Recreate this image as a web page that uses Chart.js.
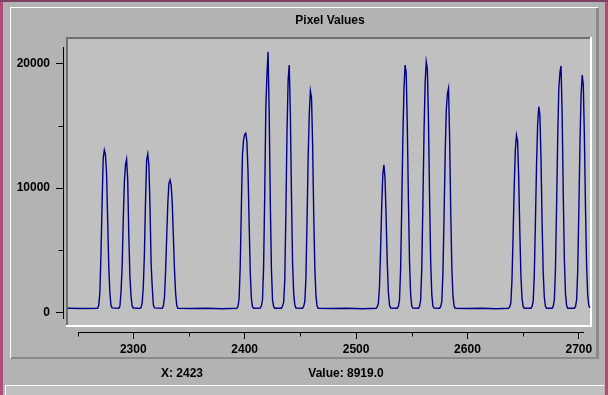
<!DOCTYPE html>
<html>
<head>
<meta charset="utf-8">
<script src="https://cdn.jsdelivr.net/npm/chart.js@4.4.1/dist/chart.umd.min.js"></script>
<style>
  body { margin: 0; background: #b3b3b3; }
  canvas { display: block; }
</style>
</head>
<body>
<canvas id="myChart" width="608" height="395"></canvas>
<script>
    // pixel index (x) and value, one line per peak / flat stretch
    var channels = [
        2241, 2255, 2268, 2269,
        2270, 2271, 2272, 2273, 2274, 2275, 2276, 2277, 2278, 2279, 2280,
        2281, 2287, 2288,
        2289, 2290, 2291, 2292, 2293, 2294, 2295, 2296, 2297, 2298, 2299,
        2300, 2306, 2307, 2308,
        2309, 2310, 2311, 2312, 2313, 2314, 2315, 2316, 2317, 2318,
        2319, 2326, 2327,
        2328, 2329, 2330, 2331, 2332, 2333, 2334, 2335, 2336, 2337, 2338, 2339,
        2340, 2352, 2366, 2380, 2393, 2394,
        2395, 2396, 2397, 2398, 2399, 2400, 2401, 2402, 2403, 2404, 2405, 2406, 2407,
        2408, 2414, 2415,
        2416, 2417, 2418, 2419, 2420, 2421, 2422, 2423, 2424, 2425, 2426,
        2427, 2433, 2434,
        2435, 2436, 2437, 2438, 2439, 2440, 2441, 2442, 2443, 2444, 2445,
        2446, 2452, 2453,
        2454, 2455, 2456, 2457, 2458, 2459, 2460, 2461, 2462, 2463, 2464, 2465,
        2466, 2478, 2492, 2506, 2518, 2519,
        2520, 2521, 2522, 2523, 2524, 2525, 2526, 2527, 2528, 2529, 2530,
        2531, 2537, 2538,
        2539, 2540, 2541, 2542, 2543, 2544, 2545, 2546, 2547, 2548, 2549, 2550,
        2551, 2556, 2557,
        2558, 2559, 2560, 2561, 2562, 2563, 2564, 2565, 2566, 2567, 2568, 2569,
        2570, 2575, 2576,
        2577, 2578, 2579, 2580, 2581, 2582, 2583, 2584, 2585, 2586, 2587, 2588,
        2589, 2600, 2613, 2626, 2637, 2638,
        2639, 2640, 2641, 2642, 2643, 2644, 2645, 2646, 2647, 2648, 2649, 2650,
        2651, 2657, 2658,
        2659, 2660, 2661, 2662, 2663, 2664, 2665, 2666, 2667, 2668, 2669, 2670,
        2671, 2676, 2677,
        2678, 2679, 2680, 2681, 2682, 2683, 2684, 2685, 2686, 2687, 2688, 2689,
        2690, 2696, 2697,
        2698, 2699, 2700, 2701, 2702, 2703, 2704, 2705, 2706, 2707, 2708, 2709, 2710
    ];
    var values = [
        320, 310, 330, 560,
        1580, 4750, 8780, 12400, 13070, 12700, 11200, 7430, 3670, 1530, 540,
        360, 330, 480,
        1660, 3670, 7430, 10520, 11870, 12320, 10660, 6090, 2870, 1260, 510,
        350, 320, 380, 760,
        2060, 4750, 9050, 12270, 12750, 11870, 8510, 3950, 2060, 590,
        360, 320, 520,
        1200, 3300, 6090, 8780, 10390, 10660, 10250, 8780, 6090, 3410, 1530, 560,
        330, 300, 320, 290, 320, 480,
        1100, 3670, 8380, 12670, 13880, 14340, 14420, 13740, 11330, 7170, 3270, 1130, 450,
        330, 340, 520,
        1000, 3670, 9500, 16560, 19110, 20990, 16000, 8919, 3500, 1000, 450,
        330, 330, 500,
        800, 2600, 8000, 14500, 18700, 19920, 16000, 9500, 4000, 1500, 600,
        350, 330, 480,
        900, 2800, 7500, 12500, 16000, 17830, 17300, 13500, 7800, 3500, 1300, 500,
        330, 300, 320, 290, 320, 450,
        700, 2000, 5000, 8500, 11100, 11870, 10800, 7600, 4000, 1600, 600,
        340, 330, 480,
        1000, 3500, 8500, 14000, 18000, 19920, 19300, 15000, 9000, 4000, 1400, 500,
        340, 330, 480,
        1000, 3600, 8800, 14500, 18500, 20190, 19600, 15500, 9200, 4000, 1400, 500,
        340, 330, 470,
        900, 3200, 7800, 12800, 16300, 17600, 18040, 14000, 8000, 3500, 1300, 500,
        330, 300, 320, 290, 330, 450,
        800, 2700, 6300, 10200, 13100, 14280, 13800, 10900, 6500, 2900, 1100, 450,
        330, 330, 470,
        900, 3000, 7200, 11800, 15100, 16560, 15900, 12400, 7300, 3200, 1200, 480,
        330, 330, 470,
        1000, 3500, 8500, 14000, 18000, 19300, 19840, 16000, 9500, 4200, 1500, 550,
        330, 330, 470,
        1000, 3400, 8300, 13600, 17500, 19110, 18300, 14000, 8200, 3600, 1300, 500, 350
    ];
    var xTicks = [2300, 2400, 2500, 2600, 2700];
    var xMinorTicks = [2250, 2350, 2450, 2550, 2650];
    var yTicks = [0, 10000, 20000];
    var yMinorTicks = [5000, 15000];
    var xAxisExtent = [2250, 2704];
    var yAxisExtent = [-540, 21370];
    var cursorX = 2423;
    var cursorValue = 8919.0;

    var font = '"Liberation Sans", Arial, sans-serif';

    var framePlugin = {
        id: 'frame',
        beforeDraw: function (chart) {
            var c = chart.ctx;
            c.save();
            c.fillStyle = '#b3b3b3';
            c.fillRect(0, 0, 608, 395);
            // window edge
            c.fillStyle = '#b24a7c';
            c.fillRect(0, 0, 3, 395);
            c.fillRect(605, 0, 3, 395);
            c.fillStyle = '#7e3f60';
            c.fillRect(0, 0, 608, 2);
            // raised panel
            c.fillStyle = '#ffffff';
            c.fillRect(10, 7, 588, 1);
            c.fillRect(10, 7, 1, 351);
            c.fillStyle = '#8a8a8a';
            c.fillRect(596, 8, 3, 351);
            c.fillRect(11, 357, 588, 2);
            // status strip
            c.fillStyle = '#c0c0c0';
            c.fillRect(5, 385, 599, 10);
            c.fillStyle = '#ffffff';
            c.fillRect(5, 385, 599, 1);
            c.fillRect(5, 385, 1, 10);
            // plot box
            c.fillStyle = '#c0c0c0';
            c.fillRect(66, 37, 526, 290);
            c.fillStyle = '#707070';
            c.fillRect(66, 37, 526, 2);
            c.fillRect(66, 37, 2, 290);
            c.fillStyle = '#ffffff';
            c.fillRect(66, 325, 526, 2);
            c.fillRect(590, 37, 2, 290);
            c.restore();
        },
        afterDraw: function (chart) {
            var c = chart.ctx;
            var xs = chart.scales.x, ys = chart.scales.y;
            var ax = Math.round(xs.left) - 0.5;
            var ay = Math.round(ys.bottom) + 0.5;
            c.save();
            c.strokeStyle = '#000';
            c.lineWidth = 1;
            c.beginPath();
            c.moveTo(ax, Math.round(ys.getPixelForValue(yAxisExtent[1])));
            c.lineTo(ax, Math.round(ys.getPixelForValue(yAxisExtent[0])));
            c.moveTo(Math.round(xs.getPixelForValue(xAxisExtent[0])), ay);
            c.lineTo(Math.round(xs.getPixelForValue(xAxisExtent[1])) + 1, ay);
            yMinorTicks.forEach(function (v) {
                var py = Math.round(ys.getPixelForValue(v)) + 0.5;
                c.moveTo(ax - 5, py);
                c.lineTo(ax, py);
            });
            xMinorTicks.forEach(function (v) {
                var px = Math.round(xs.getPixelForValue(v)) + 0.5;
                c.moveTo(px, ay);
                c.lineTo(px, ay + 4);
            });
            c.stroke();

            c.fillStyle = '#000';
            c.font = 'bold 12px ' + font;
            c.textAlign = 'center';
            c.textBaseline = 'middle';
            c.fillText('Pixel Values', 330, 21);
            c.fillText('X: ' + cursorX, 182, 374);
            c.fillText('Value: ' + cursorValue.toFixed(1), 346, 374);
            c.restore();
        }
    };

    var ctx = document.getElementById('myChart').getContext('2d');
    var myChart = new Chart(ctx, {
        type: 'line',
        data: {
            datasets: [{
                data: channels.map(function (x, i) { return { x: x, y: values[i] }; }),
                borderColor: '#00008b',
                borderWidth: 1.4,
                pointRadius: 0,
                tension: 0,
                fill: false
            }]
        },
        options: {
            responsive: false,
            animation: false,
            devicePixelRatio: 1,
            layout: { padding: { left: 14, top: 39, right: 16, bottom: 33 } },
            plugins: {
                legend: { display: false },
                tooltip: { enabled: false },
                title: { display: false }
            },
            scales: {
                x: {
                    type: 'linear',
                    position: 'bottom',
                    min: 2237.8,
                    max: 2711.8,
                    afterBuildTicks: function (s) { s.ticks = xTicks.map(function (v) { return { value: v }; }); },
                    afterFit: function (s) { s.height = 30; },
                    border: { display: false },
                    grid: { drawOnChartArea: false, drawTicks: true, tickLength: 7, tickColor: '#000', tickWidth: 1 },
                    ticks: {
                        color: '#000',
                        padding: 3,
                        maxRotation: 0,
                        autoSkip: false,
                        font: { family: font, size: 12, weight: 'bold' },
                        callback: function (v) { return String(v); }
                    }
                },
                y: {
                    min: -1587,
                    max: 22013,
                    afterBuildTicks: function (s) { s.ticks = yTicks.map(function (v) { return { value: v }; }); },
                    afterFit: function (s) { s.width = 50; },
                    border: { display: false },
                    grid: { drawOnChartArea: false, drawTicks: true, tickLength: 8, tickColor: '#000', tickWidth: 1 },
                    ticks: {
                        color: '#000',
                        padding: 6,
                        font: { family: font, size: 12, weight: 'bold' },
                        callback: function (v) { return String(v); }
                    }
                }
            }
        },
        plugins: [framePlugin]
    });
</script>
</body>
</html>
